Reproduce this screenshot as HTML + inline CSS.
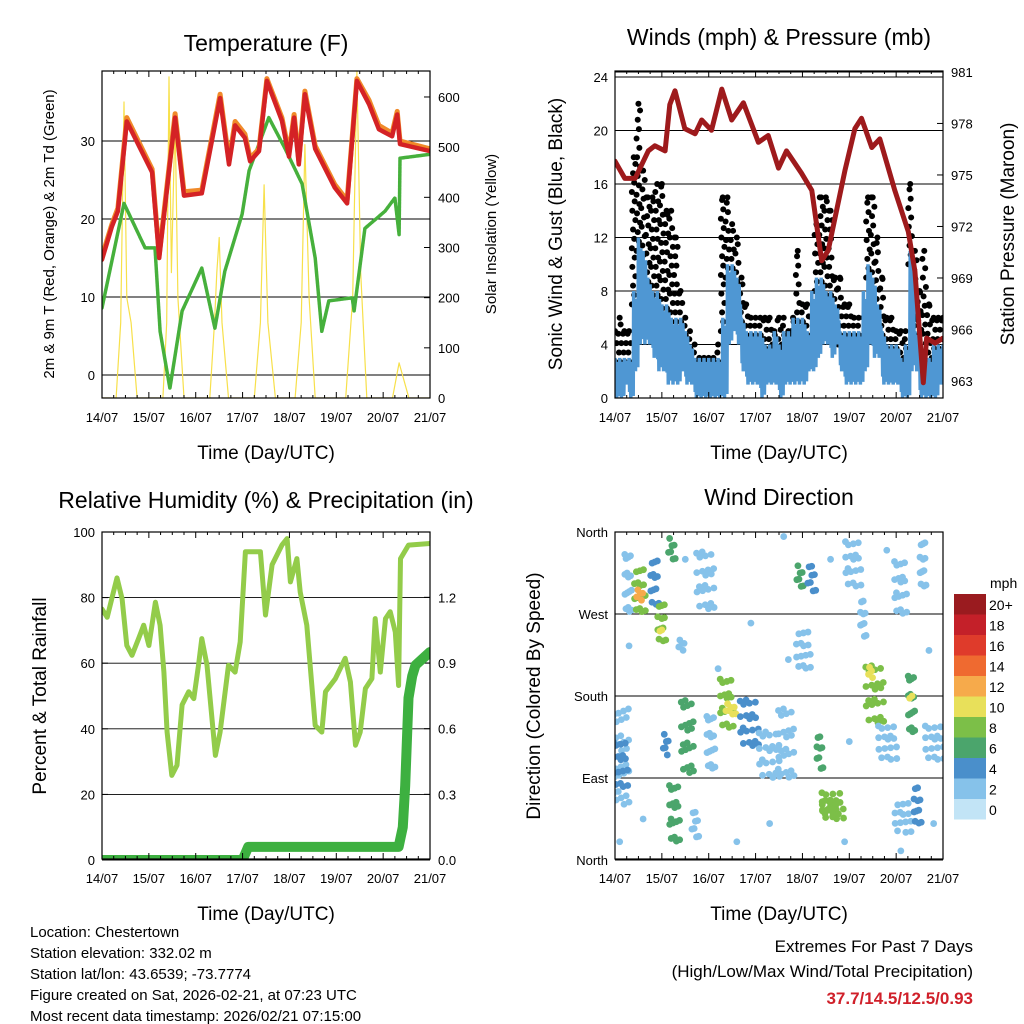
<!DOCTYPE html>
<html><head><meta charset="utf-8"><style>
html,body{margin:0;padding:0;background:#fff;}
svg{display:block;font-family:"Liberation Sans",sans-serif;}
</style></head><body>
<svg id="root" xmlns="http://www.w3.org/2000/svg" width="1024" height="1024" viewBox="0 0 1024 1024">
<rect x="0" y="0" width="1024" height="1024" fill="#fff"/>
<text x="266" y="51" font-size="23" text-anchor="middle">Temperature (F)</text>
<text x="779" y="45" font-size="23" text-anchor="middle">Winds (mph) &amp; Pressure (mb)</text>
<text x="266" y="508" font-size="23" text-anchor="middle">Relative Humidity (%) &amp; Precipitation (in)</text>
<text x="779" y="505" font-size="23" text-anchor="middle">Wind Direction</text>
<g id="layer"></g>
<text transform="translate(54,234) rotate(-90)" font-size="15" text-anchor="middle">2m &amp; 9m T (Red, Orange) &amp; 2m Td (Green)</text>
<text transform="translate(496,234) rotate(-90)" font-size="15" text-anchor="middle">Solar Insolation (Yellow)</text>
<text transform="translate(562,234) rotate(-90)" font-size="19" text-anchor="middle">Sonic Wind &amp; Gust (Blue, Black)</text>
<text transform="translate(1014,234) rotate(-90)" font-size="19" text-anchor="middle">Station Pressure (Maroon)</text>
<text transform="translate(46,696) rotate(-90)" font-size="19" text-anchor="middle">Percent &amp; Total Rainfall</text>
<text transform="translate(540,696) rotate(-90)" font-size="19" text-anchor="middle">Direction (Colored By Speed)</text>
<text x="266" y="459" font-size="19" text-anchor="middle">Time (Day/UTC)</text>
<text x="779" y="459" font-size="19" text-anchor="middle">Time (Day/UTC)</text>
<text x="266" y="920" font-size="19" text-anchor="middle">Time (Day/UTC)</text>
<text x="779" y="920" font-size="19" text-anchor="middle">Time (Day/UTC)</text>
<g font-size="15">
<text x="30" y="937">Location: Chestertown</text>
<text x="30" y="958">Station elevation: 332.02 m</text>
<text x="30" y="979">Station lat/lon: 43.6539; -73.7774</text>
<text x="30" y="1000">Figure created on Sat, 2026-02-21, at 07:23 UTC</text>
<text x="30" y="1021">Most recent data timestamp: 2026/02/21 07:15:00</text>
</g>
<g font-size="17" text-anchor="end">
<text x="973" y="952">Extremes For Past 7 Days</text>
<text x="973" y="977">(High/Low/Max Wind/Total Precipitation)</text>
<text x="973" y="1004" fill="#d0202a" font-weight="bold">37.7/14.5/12.5/0.93</text>
</g>
</svg>
<script>
// ---------- data ----------
const dayLabels=["14/07","15/07","16/07","17/07","18/07","19/07","20/07","21/07"];
const tT=[0,.21,.34,.53,1.07,1.22,1.56,1.75,2.13,2.52,2.71,2.84,3.05,3.16,3.35,3.52,3.84,3.99,4.1,4.2,4.33,4.55,4.97,5.23,5.44,5.7,5.91,6.19,6.3,6.36,7];
const temp2m=[14.8,19,21,32.5,26,15,33,23,23.3,35.5,27,32,30.4,27.4,28.7,37.7,32.6,28,33,27,36,29,24,22,37.7,34.7,31.5,30.6,33.4,29.6,28.7];
const temp9m=[15.2,19.3,21.4,33,26.4,15.4,33.5,23.5,23.7,36,27.5,32.5,30.9,27.8,29,38,33,28.5,33.4,27.5,36.4,29.4,24.4,22.4,38,35.2,32,31,33.8,30,29];
const tD=[0,.47,.92,1.13,1.24,1.45,1.71,2.13,2.41,2.62,2.99,3.14,3.56,3.91,4.27,4.55,4.69,4.84,5.34,5.38,5.61,6.04,6.25,6.34,6.36,7];
const dew2m=[8.6,22,16.3,16.3,5.6,-1.7,8.2,13.7,6,13.3,20.6,26.2,33,29,24.5,15,5.6,9.5,9.9,8.2,18.8,21,22.7,18,27.8,28.3];
const tS=[0,.3,.4,.47,.53,.62,.75,1.3,1.38,1.43,1.48,1.56,1.62,1.75,2.3,2.4,2.45,2.5,2.56,2.7,3.25,3.38,3.46,3.54,3.7,4.12,4.25,4.33,4.42,4.55,5.2,5.35,5.44,5.52,5.65,6.2,6.3,6.34,6.4,6.55,7];
const solar=[0,0,150,590,200,150,0,0,150,640,250,560,200,0,0,150,250,320,150,0,0,150,425,150,0,0,150,505,200,0,0,200,650,250,0,0,50,70,50,0,0];
const windLo=[0,0,1,0,2,4,4,4,3,2, 2,1,1,1,2,1,1,0,0,0, 0,0,0,0,4,5,4,2,1,1, 1,0,1,1,1,0,1,1,1,1, 1,2,2,3,4,4,3,4,2,1, 1,1,1,2,4,3,3,1,1,1, 1,0,0,2,2,0,0,0,0,1, 1];
const windHi=[3,3,3,3,8,12,11,9,8,8, 7,7,6,6,6,5,4,3,3,3, 3,3,3,6,10,10,9,6,5,5, 5,5,4,4,5,4,5,5,6,6, 6,5,8,9,9,8,8,7,5,5, 5,5,5,8,10,9,7,5,4,4, 4,3,4,11,5,4,3,3,4,4, 4];
const gust=[5,6,5,5,18,22,17,15,15,16, 16,14,14,12,8,6,5,4,3,3, 3,3,4,15,15,13,12,9,7,6, 6,6,6,6,5,6,6,5,6,11, 7,7,6,13,15,15,14,9,9,7, 7,6,6,6,15,15,12,9,6,6, 5,5,5,16,11,8,11,7,6,6, 6];
const tP=[0,.21,.43,.71,.85,1.07,1.17,1.28,1.49,1.71,1.85,2.06,2.28,2.49,2.74,3.06,3.27,3.49,3.66,3.98,4.2,4.41,4.55,4.91,5.12,5.26,5.48,5.65,5.97,6.26,6.4,6.58,6.65,6.83,7];
const pressure=[975.8,974.8,974.8,976.4,976.7,976.4,979.1,979.9,977.7,977.4,978.2,977.6,980,978.2,979.2,976.9,977.3,975.4,976.4,975.1,974.1,970,970.6,975.3,977.7,978.3,976.6,977.1,974.1,971.7,969.4,962.9,965.5,965.2,965.5];
const tR=[0,.11,.25,.32,.43,.53,.64,.78,.89,1.0,1.14,1.24,1.32,1.39,1.49,1.6,1.71,1.85,1.96,2.06,2.13,2.24,2.42,2.52,2.7,2.84,2.95,3.06,3.27,3.38,3.49,3.63,3.84,3.95,4.02,4.16,4.23,4.37,4.55,4.69,4.77,4.98,5.19,5.3,5.41,5.51,5.62,5.76,5.83,5.94,6.05,6.15,6.26,6.33,6.37,6.54,7];
const rh=[76.5,74,82,86,79.6,65.4,62.4,67.5,71.6,65.4,78.6,71.6,57.3,39,25.8,28.9,47.3,51.3,49.2,59.4,67.5,59.4,31.9,39,59.4,57.3,66.5,94,94,94,74.7,90,96,98,84.8,91.9,81.7,71.6,41,39,51.3,55.3,61.5,54.3,35,39,52.3,55.3,73.6,57.3,73.6,75.7,69.5,53.2,91.9,96,96.5];
const tPr=[0,3.0,3.12,6.33,6.42,6.47,6.54,6.62,6.69,7];
const precip=[0,0,0.06,0.06,0.15,0.34,0.74,0.84,0.89,0.95];
const colT0=[.25,.45,.5,.8,.95,1.0,1.18,1.4,1.77,0,0,1.07,1.45,1.2,1.68,2.0,2.28,2.4,2.7,3.1,3.52,3.92,4.15,3.9,4.35,4.44,4.95,5.28,5.38,5.45,5.65,6.0,6.0,6.3,6.33,6.42,6.55,6.65,4.45];
const colT1=[.32,.62,.58,.9,1.05,1.0,1.25,1.46,2.1,.28,.25,1.12,1.65,1.35,1.75,2.1,2.5,2.55,3.05,3.5,3.8,3.98,4.25,4.15,4.4,4.87,5.23,5.32,5.72,5.5,6.0,6.2,6.3,6.36,6.35,6.5,6.6,7.0,4.75];
const colD0=[272,272,285,280,240,250,330,230,275,60,80,115,95,20,25,100,145,160,125,90,90,300,295,210,100,45,300,245,150,200,110,270,30,140,175,40,300,110,50];
const colD1=[349,330,300,340,290,255,360,245,350,180,140,145,190,95,60,170,210,175,185,150,180,330,330,260,145,80,360,295,225,215,155,340,70,215,185,90,360,155,70];
const colSpd=[1,8,12,4,7,10,5,2,1,2,3,3,5,6,1,1,8,10,4,2,2,6,4,2,6,7,1,2,7,9,2,2,2,6,10,4,2,2,8];
const isoT=[0.3,0.6,1.5,2.2,2.9,3.3,3.7,4.6,5.8,6.1,6.8,0.1,2.6,3.6,4.9,5.0,6.7];
const isoD=[235,45,330,210,260,40,220,330,340,10,40,20,20,355,20,130,230];
const isoS=[1,1,2,1,1,2,1,2,1,1,2,1,1,1,1,2,1];
const speedColors=["#c2e4f6","#86c2ea","#4a8fcb","#4ba56c","#7cbf48","#e8e05a","#f6aa4b","#ef6a30","#df3b2b","#c42029","#9a1b1f"];
const speedLabels=["0","2","4","6","8","10","12","14","16","18","20+"];

// ---------- helpers ----------
const NS="http://www.w3.org/2000/svg";
const layer=document.getElementById('layer');
function mk(tag,attrs,parent){const e=document.createElementNS(NS,tag);for(const k in attrs)e.setAttribute(k,attrs[k]);(parent||layer).appendChild(e);return e;}
function txt(x,y,s,size,anchor,parent){const e=mk('text',{x:x,y:y,'font-size':size,'text-anchor':anchor},parent);e.textContent=s;return e;}
const DAYW=46.86;
function panel(x0,y0,name){
  const g=mk('g',{});
  
  
  return {g:g,x0:x0,y0:y0,x1:x0+328,y1:y0+327,sx:function(t){return x0+t*DAYW;}};
}
function frame(p,nm){
  const r=mk('rect',{x:p.x0,y:p.y0,width:328,height:327,fill:'none',stroke:'#000','stroke-width':1.2},p.g);
  
  
  for(let i=0;i<dayLabels.length;i++){
    const x=p.sx(i);
    mk('line',{x1:x,y1:p.y1,x2:x,y2:p.y1-6,stroke:'#000'},p.g);
    mk('line',{x1:x,y1:p.y0,x2:x,y2:p.y0+6,stroke:'#000'},p.g);
    for(let k=1;k<4&&i<7;k++){const xm=x+k*DAYW/4;mk('line',{x1:xm,y1:p.y1,x2:xm,y2:p.y1-3,stroke:'#000'},p.g);mk('line',{x1:xm,y1:p.y0,x2:xm,y2:p.y0+3,stroke:'#000'},p.g);}
    const lab=txt(x,p.y1+24,dayLabels[i],13,'middle',p.g);
    
    
  }
}
function yaxis(p,vals,labels,fy,side,grid,nm){
  for(let i=0;i<vals.length;i++){
    const y=fy(vals[i]);
    if(grid){const gl=mk('line',{x1:p.x0,y1:y,x2:p.x1,y2:y,stroke:'#000','stroke-width':0.9},p.g);
      
      }
    const xe=side==='l'?p.x0:p.x1;
    mk('line',{x1:xe,y1:y,x2:side==='l'?xe+6:xe-6,y2:y,stroke:'#000'},p.g);
    const lab=txt(side==='l'?xe-7:xe+8,y+5,labels[i],13,side==='l'?'end':'start',p.g);
    
    
  }
}
function clip(p,id){const c=mk('clipPath',{id:id},p.g);mk('rect',{x:p.x0,y:p.y0,width:328,height:327},c);}
function poly(p,ts,vs,fy,color,w,nm,clipId){
  let d='';for(let i=0;i<ts.length;i++)d+=(i?'L':'M')+p.sx(ts[i]).toFixed(1)+','+fy(vs[i]).toFixed(1);
  const e=mk('path',{d:d,fill:'none',stroke:color,'stroke-width':w,'stroke-linejoin':'round','stroke-linecap':'round','clip-path':'url(#'+clipId+')'},p.g);
  
  
  return e;
}

// ---------- Temperature ----------
{
const p=panel(102,71,'temperature-panel');
const fy=v=>375-v*7.8; const fs=v=>398-v*0.5017;
clip(p,'c1');
yaxis(p,[0,10,20,30],["0","10","20","30"],fy,'l',true,'temp');
yaxis(p,[0,100,200,300,400,500,600],["0","100","200","300","400","500","600"],fs,'r',false,'solar');
poly(p,tS,solar,fs,'#f7e04a',1.2,'solar-insolation-line','c1');
poly(p,tD,dew2m,fy,'#46b03c',3.5,'dewpoint-line','c1').setAttribute('stroke-dasharray','2.5 1');
poly(p,tT,temp9m,fy,'#f08a2a',5,'temp-9m-line','c1');
poly(p,tT,temp2m,fy,'#d42225',4.5,'temp-2m-line','c1');
frame(p,'temp');
}
// ---------- Winds ----------
{
const p=panel(615,71,'wind-panel');
const fy=v=>398-v*13.375; const fp=v=>381-(v-963)*17.17;
clip(p,'c2');
yaxis(p,[0,4,8,12,16,20,24],["0","4","8","12","16","20","24"],fy,'l',true,'wind');
yaxis(p,[963,966,969,972,975,978,981],["963","966","969","972","975","978","981"],fp,'r',false,'pressure');
mk('line',{x1:p.x0,y1:fp(981),x2:p.x1,y2:fp(981),stroke:'#000'},p.g);
const step=0.1;
const gd=mk('g',{fill:'#000','clip-path':'url(#c2)'},p.g);


const offs=[-0.4,0.1,-0.15,0.35,-0.3,0.2];
for(let i=0;i<gust.length;i++){
  let j=0;
  for(let v=windHi[i]-1;v<=gust[i];v+=0.7){
    const t=i*step+offs[j%offs.length]*step;j++;
    if(t<0||t>7)continue;
    const c=mk('circle',{cx:p.sx(t),cy:fy(v),r:3},gd);
    
  }
  const c=mk('circle',{cx:p.sx(i*step),cy:fy(gust[i]),r:3},gd);
  
}
const pat=[1,.15,.75,0,.9,.3,.6,.05];
let d='';
for(let i=0;i<windLo.length;i++){
  for(let k=0;k<pat.length;k++){
    const t=Math.min(7,i*step+k*step/pat.length);
    const v=windLo[i]+(windHi[i]-windLo[i])*pat[k];
    d+=(d?'L':'M')+p.sx(t).toFixed(1)+','+fy(v).toFixed(1);
  }
}
const wl=mk('path',{d:d,fill:'none',stroke:'#4f97d3','stroke-width':3.5,'clip-path':'url(#c2)'},p.g);


poly(p,tP,pressure,fp,'#9e1a1c',5,'pressure-line','c2');
frame(p,'wind');
}
// ---------- RH ----------
{
const p=panel(102,532,'humidity-panel');
const fy=v=>860-v*3.28; const fr=v=>860-v*218.9;
clip(p,'c3');
yaxis(p,[0,20,40,60,80,100],["0","20","40","60","80","100"],fy,'l',true,'rh');
yaxis(p,[0,0.3,0.6,0.9,1.2],["0.0","0.3","0.6","0.9","1.2"],fr,'r',false,'precip');
poly(p,tR,rh,fy,'#93cc4a',5,'relative-humidity-line','c3');
poly(p,tPr,precip,fr,'#3db040',10,'precipitation-line','c3');
frame(p,'rh');
}
// ---------- Wind direction ----------
{
const p=panel(615,532,'wind-direction-panel');
const fy=v=>860-v*(328/360);
clip(p,'c4');
yaxis(p,[0,90,180,270,360],["North","East","South","West","North"],fy,'l',true,'direction');
const gd=mk('g',{'clip-path':'url(#c4)'},p.g);


function dot(t,dir,spd){
  const ci=Math.min(10,Math.round(spd/2));
  const c=mk('circle',{cx:p.sx(t),cy:fy(dir),r:3.4,fill:speedColors[ci]},gd);
  
  
}
for(let c=0;c<colT0.length;c++){
  const n=Math.max(2,Math.round((colD1[c]-colD0[c])/5.5)+Math.round((colT1[c]-colT0[c])*25));
  for(let i=0;i<n;i++){
    const f=(0.5+i*0.7548777)%1;
    const g=(0.5+i*0.5698403)%1;
    const jit=(g-0.5)*0.1;
    dot(colT0[c]+(colT1[c]-colT0[c])*g+jit,colD0[c]+(colD1[c]-colD0[c])*f,colSpd[c]);
  }
}
for(let i=0;i<isoT.length;i++)dot(isoT[i],isoD[i],isoS[i]);
frame(p,'dir');
const cb=mk('g',{});


txt(990,588,'mph',14,'start',cb);
for(let i=0;i<speedColors.length;i++){
  const y=799-i*20.5;
  const r=mk('rect',{x:954,y:y,width:32,height:20.5,fill:speedColors[i]},cb);
  
  
  const l=txt(989,y+16,speedLabels[i],14,'start',cb);
  
  
}
}
</script>
</body></html>
